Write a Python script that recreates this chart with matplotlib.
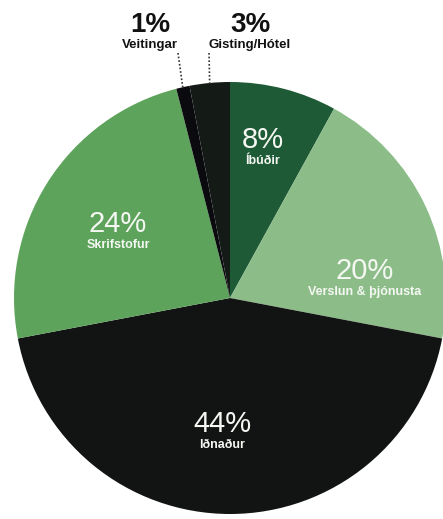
import numpy as np
import matplotlib.pyplot as plt

plt.rcParams['font.family'] = ['Liberation Sans', 'DejaVu Sans']

categories = ['Íbúðir', 'Verslun & þjónusta', 'Iðnaður', 'Skrifstofur', 'Veitingar', 'Gisting/Hótel']
shares = [8, 20, 44, 24, 1, 3]
colors = ['#1f5a36', '#8cbd88', '#121413', '#5ea35b', '#0b0b0f', '#141b17']

W, H = 443, 519
fig = plt.figure(figsize=(W / 100, H / 100), dpi=100)
ax = fig.add_axes([0, 0, 1, 1])

# work in pixel coordinates, y up
cx, cy, r = 230, H - 298, 216
wedges, _ = ax.pie(shares, colors=colors, startangle=90, counterclock=False,
                   center=(cx, cy), radius=r, wedgeprops=dict(linewidth=0))
ax.set_xlim(0, W)
ax.set_ylim(0, H)
ax.set_aspect('auto')
ax.axis('off')

# labels inside the slices: x centre and the gap between number and name (px from top)
inside = {0: (263, 152), 1: (365, 283), 3: (118, 236), 2: (222, 436)}
for i, (x, y) in inside.items():
    ax.text(x, H - y + 4, f'{shares[i]}%', color='#f4f7f2', fontsize=21,
            ha='center', va='baseline')
    ax.text(x, H - y - 3, categories[i], color='#f4f7f2', fontsize=9,
            fontweight='bold', ha='center', va='top')

# the two small slices get labels above the pie with dotted leaders
outside = {4: (150, 35, 178), 5: (250, 35, 209)}
for i, (x, y, lx) in outside.items():
    w = wedges[i]
    mid = np.radians((w.theta1 + w.theta2) / 2)
    ex = cx + r * np.cos(mid)
    ey = cy + r * np.sin(mid)
    ax.text(x, H - y + 3, f'{shares[i]}%', color='#111111', fontsize=20,
            fontweight='bold', ha='center', va='baseline')
    ax.text(x, H - y - 4, categories[i], color='#111111', fontsize=9.5,
            fontweight='bold', ha='center', va='top')
    ax.plot([lx, ex], [H - 53, ey - 1], color='#333333',
            linestyle=(0, (1, 1.2)), linewidth=1.2)

fig.savefig('out.png', dpi=100)
